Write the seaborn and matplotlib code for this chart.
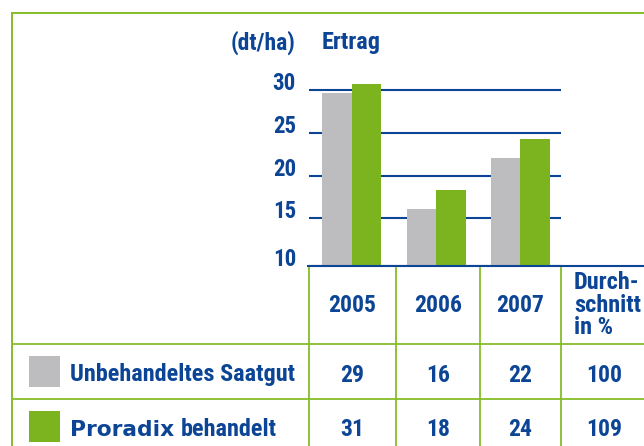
import matplotlib
matplotlib.use('Agg')
import matplotlib.pyplot as plt
import seaborn as sns
import pandas as pd
from matplotlib.lines import Line2D
from matplotlib.patches import Rectangle

# ---- data ----
years = ['2005', '2006', '2007']
series_names = ['Unbehandeltes Saatgut', 'Proradix behandelt']
ertrag_unbehandelt = [29.6, 16.1, 22.0]
ertrag_proradix = [30.7, 18.3, 24.3]
table_unbehandelt = ['29', '16', '22', '100']
table_proradix = ['31', '18', '24', '109']
ytick_values = [10, 15, 20, 25, 30]
ytick_labels = ['10', '15', '20', '25', '30']
avg_header = 'Durch-\nschnitt\nin %'
unit_label = '(dt/ha)'
title_label = 'Ertrag'

# ---- style ----
BLUE = '#0c4596'
GREEN = '#7cb41f'
GRAY = '#bdbdbf'
LINE_GREEN = '#86bd2a'

W, H = 644, 446
sns.set_theme(style='white')
FAM = ['Roboto Condensed', 'Open Sans Condensed', 'Liberation Sans Narrow', 'Lato', 'DejaVu Sans']
plt.rcParams['font.family'] = FAM

fig = plt.figure(figsize=(W / 100, H / 100), dpi=100)
fig.patch.set_facecolor('white')


def fx(x):
    return x / W


def fy(y):
    return 1 - y / H


ax_left, ax_right, ax_top, ax_bot = 309, 561, 80, 265.7
ax = fig.add_axes([fx(ax_left), fy(ax_bot), (ax_right - ax_left) / W, (ax_bot - ax_top) / H])

df = pd.DataFrame({
    'Jahr': years * 2,
    'Variante': [series_names[0]] * len(years) + [series_names[1]] * len(years),
    'Ertrag': ertrag_unbehandelt + ertrag_proradix,
})
sns.barplot(data=df, x='Jahr', y='Ertrag', hue='Variante', palette=[GRAY, GREEN],
            width=0.7, gap=0, legend=False, ax=ax, saturation=1, errorbar=None,
            linewidth=0, edgecolor='none')

px_per_unit = 8.553
y_top = 30 + (90 - ax_top) / px_per_unit
y_bot = 30 - (ax_bot - 90) / px_per_unit
ax.set_ylim(y_bot, y_top)
ax.set_xlim(-0.506, 2.48)

tick_pos = [y_bot] + ytick_values[1:]
ax.set_yticks(tick_pos)
ax.set_yticklabels(ytick_labels)
ax.tick_params(axis='y', length=0, pad=9.4, labelsize=16.5, labelcolor=BLUE)
for lab in ax.get_yticklabels():
    lab.set_fontweight('bold')
    lab.set_verticalalignment('baseline')
ax.set_xticks([])
ax.set_xlabel('')
ax.set_ylabel('')
for s in ax.spines.values():
    s.set_visible(False)
ax.set_axisbelow(True)
ax.yaxis.grid(True, color=BLUE, linewidth=1.5)
ax.xaxis.grid(False)
ax.patch.set_alpha(0)


def hline(y, x0, x1, color, lw):
    fig.add_artist(Line2D([fx(x0), fx(x1)], [fy(y), fy(y)], transform=fig.transFigure,
                          color=color, linewidth=lw, solid_capstyle='butt'))


def vline(x, y0, y1, color, lw):
    fig.add_artist(Line2D([fx(x), fx(x)], [fy(y0), fy(y1)], transform=fig.transFigure,
                          color=color, linewidth=lw, solid_capstyle='butt'))


# frame
hline(12.5, 11.5, 644, LINE_GREEN, 1.4)
vline(12.5, 11.5, 446, LINE_GREEN, 1.4)
# table
hline(265.7, 307, 644, BLUE, 1.5)
for xv in [309, 395.7, 480, 561.3]:
    vline(xv, 266.5, 446, LINE_GREEN, 1.3)
for yv in [343.7, 399.3]:
    hline(yv, 12.5, 644, LINE_GREEN, 1.3)

# titles
fig.text(fx(296), fy(43), unit_label, ha='right', va='center', color=BLUE,
         fontsize=17, fontweight='bold')
fig.text(fx(322), fy(43), title_label, ha='left', va='center', color=BLUE,
         fontsize=17.5, fontweight='bold')

# table header
col_x = [352, 438, 520.5, 604]
for x, yr in zip(col_x[:3], years):
    fig.text(fx(x), fy(305), yr, ha='center', va='center', color=BLUE,
             fontsize=17, fontweight='bold')
fig.text(fx(574), fy(305), avg_header, ha='left', va='center', color=BLUE,
         fontsize=17.5, fontweight='bold', linespacing=0.96)

# rows
for x, v in zip(col_x, table_unbehandelt):
    fig.text(fx(x), fy(375), v, ha='center', va='center', color=BLUE,
             fontsize=17, fontweight='bold')
for x, v in zip(col_x, table_proradix):
    fig.text(fx(x), fy(430), v, ha='center', va='center', color=BLUE,
             fontsize=17, fontweight='bold')

# legend squares and labels
fig.add_artist(Rectangle((fx(29), fy(387)), 31 / W, 31 / H, transform=fig.transFigure,
                         facecolor=GRAY, edgecolor='none'))
fig.add_artist(Rectangle((fx(29), fy(442)), 31 / W, 31 / H, transform=fig.transFigure,
                         facecolor=GREEN, edgecolor='none'))
fig.text(fx(70), fy(374), series_names[0], ha='left', va='center', color=BLUE,
         fontsize=17.5, fontweight='bold')
name_first, name_rest = series_names[1].split(' ', 1)
fig.text(fx(70), fy(430), name_first, ha='left', va='center', color=BLUE, fontsize=15.7,
         fontweight='bold', family=['DejaVu Sans'])
fig.text(fx(181), fy(430), name_rest, ha='left', va='center', color=BLUE,
         fontsize=17.5, fontweight='bold')

fig.savefig('out.png', dpi=100)
